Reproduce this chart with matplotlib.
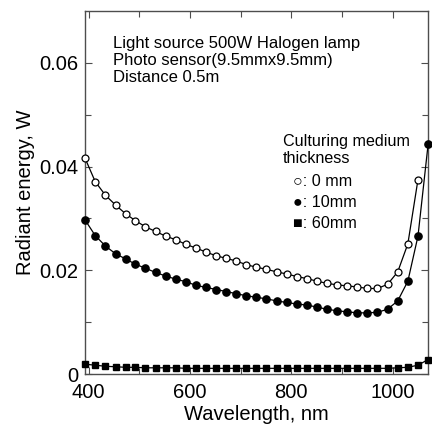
import matplotlib
matplotlib.use('Agg')
import matplotlib.pyplot as plt
from matplotlib.ticker import FixedLocator, FixedFormatter

plt.rcParams['font.family'] = ['Liberation Sans', 'DejaVu Sans']

# wavelength (nm)
wavelength = [393, 413, 433, 453, 473, 492, 512, 532, 552, 572, 592, 612,
              632, 652, 672, 691, 711, 731, 751, 771, 791, 811, 831, 851,
              870, 890, 910, 930, 950, 970, 990, 1010, 1030, 1050, 1070]

# radiant energy (W) for each culturing medium thickness
energy_0mm = [0.0416, 0.0371, 0.0345, 0.0326, 0.0309, 0.0296, 0.0284, 0.0275,
              0.0266, 0.0259, 0.0250, 0.0243, 0.0235, 0.0228, 0.0223, 0.0218,
              0.0211, 0.0206, 0.0202, 0.0197, 0.0193, 0.0188, 0.0184, 0.0179,
              0.0175, 0.0172, 0.0170, 0.0168, 0.0165, 0.0165, 0.0173, 0.0197,
              0.0251, 0.0375]
energy_10mm = [0.0297, 0.0267, 0.0247, 0.0232, 0.0222, 0.0212, 0.0204, 0.0196,
               0.0189, 0.0183, 0.0178, 0.0171, 0.0167, 0.0163, 0.0159, 0.0155,
               0.0151, 0.0148, 0.0145, 0.0141, 0.0138, 0.0135, 0.0133, 0.0129,
               0.0125, 0.0122, 0.0120, 0.0118, 0.0118, 0.0119, 0.0125, 0.0141,
               0.0179, 0.0266, 0.0443]
energy_60mm = [0.0019, 0.0017, 0.0015, 0.0014, 0.0013, 0.0013, 0.0012, 0.0012,
               0.0012, 0.0012, 0.0011, 0.0011, 0.0011, 0.0011, 0.0011, 0.0011,
               0.0011, 0.0011, 0.0011, 0.0011, 0.0011, 0.0011, 0.0011, 0.0011,
               0.0011, 0.0011, 0.0011, 0.0011, 0.0011, 0.0011, 0.0011, 0.0012,
               0.0013, 0.0017, 0.0028]

xticks_major = [400, 600, 800, 1000]
xticks_minor = [500, 700, 900]
yticks_major = [0, 0.02, 0.04, 0.06]
ytick_labels = ['0', '0.02', '0.04', '0.06']
yticks_minor = [0.01, 0.03, 0.05]

info_lines = ['Light source 500W Halogen lamp',
              'Photo sensor(9.5mmx9.5mm)',
              'Distance 0.5m']
legend_title = ['Culturing medium', 'thickness']
legend_items = ['\u25cb: 0 mm', '\u25cf: 10mm', '\u25a0: 60mm']

#%%
fig = plt.figure(figsize=(4.32, 4.26), dpi=100)
ax = fig.add_axes([0.197, 0.122, 0.794, 0.852])

n0 = len(energy_0mm)
ax.plot(wavelength[:n0], energy_0mm, '-o', color='k', mfc='white', mec='k',
        ms=5, mew=0.9, lw=0.9, clip_on=False, zorder=3)
ax.plot(wavelength, energy_10mm, '-o', color='k', ms=5.2, lw=0.9,
        clip_on=False, zorder=3)
ax.plot(wavelength, energy_60mm, '-s', color='k', ms=5, lw=0.9,
        clip_on=False, zorder=3)

ax.set_xlim(393, 1070)
ax.set_ylim(0, 0.07)
ax.xaxis.set_major_locator(FixedLocator(xticks_major))
ax.xaxis.set_minor_locator(FixedLocator(xticks_minor))
ax.yaxis.set_major_locator(FixedLocator(yticks_major))
ax.yaxis.set_major_formatter(FixedFormatter(ytick_labels))
ax.yaxis.set_minor_locator(FixedLocator(yticks_minor))
ax.tick_params(which='both', direction='in', top=True, right=True,
               labelsize=14.5, color='0.3', width=0.8)
ax.tick_params(which='major', length=5)
ax.tick_params(which='minor', length=4)
ax.tick_params(axis='x', which='major', pad=6.5)
ax.tick_params(axis='y', which='major', pad=5)
for s in ax.spines.values():
  s.set_color('0.3')
  s.set_linewidth(1.0)

ax.set_xlabel('Wavelength, nm', fontsize=14.5, labelpad=2)
ax.set_ylabel('Radiant energy, W', fontsize=14.5, labelpad=3)

ax.text(0.082, 0.931, '\n'.join(info_lines), transform=ax.transAxes,
        fontsize=12, va='top', ha='left', linespacing=1.18)
ax.text(0.577, 0.661, '\n'.join(legend_title), transform=ax.transAxes,
        fontsize=11.6, va='top', ha='left', linespacing=1.15)
ax.text(0.606, 0.551, '\n'.join(legend_items), transform=ax.transAxes,
        fontsize=11.6, va='top', ha='left', linespacing=1.5)

fig.savefig('out.png', dpi=100)
